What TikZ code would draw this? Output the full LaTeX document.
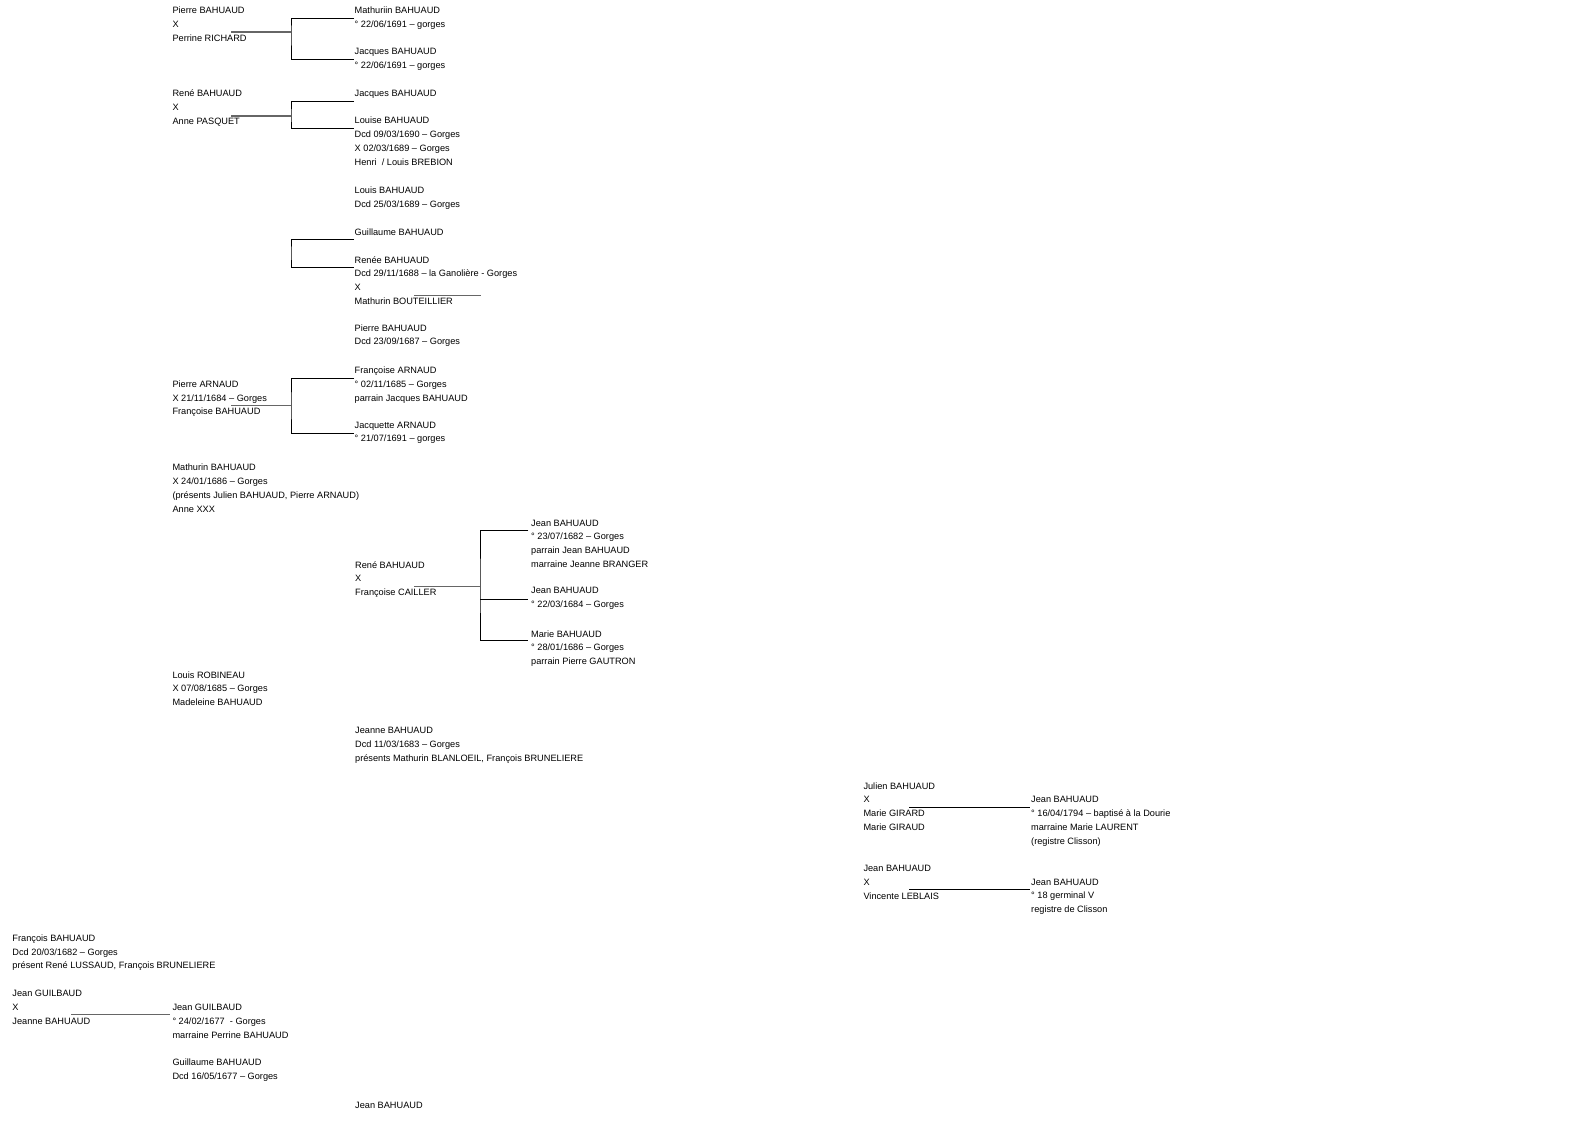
\documentclass[tikz,border=0pt]{standalone}
\usepackage{fontspec}
\setmainfont{Liberation Sans}
\begin{document}
\begin{tikzpicture}[
  x=1pt, y=-1pt,
  person/.style={anchor=north west, yshift=7pt, align=left, inner sep=0pt,
    font=\fontsize{9.2}{13.8}\selectfont, execute at begin node={\rule{0pt}{7pt}}},
  tree/.style={draw=black, line width=0.8pt},
  couple/.style={draw=black!60, line width=1.4pt}
]
\useasboundingbox (0,0) rectangle (1588,1123);

\node[person] (pierreB) at (172.3,13.9) {Pierre BAHUAUD\\X\\Perrine RICHARD};
\node[person] (mathuriin) at (354.5,13.9) {Mathuriin BAHUAUD\\° 22/06/1691 – gorges};
\node[person] (jacquesA) at (354.5,54.9) {Jacques BAHUAUD\\° 22/06/1691 – gorges};

\node[person] (reneA) at (172.3,96.5) {René BAHUAUD\\X\\Anne PASQUET};
\node[person] (jacquesB) at (354.5,96.5) {Jacques BAHUAUD};
\node[person] (louise) at (354.5,123.9) {Louise BAHUAUD\\Dcd 09/03/1690 – Gorges\\X 02/03/1689 – Gorges\\Henri\ \ / Louis BREBION};
\node[person] (louis) at (354.5,193.9) {Louis BAHUAUD\\Dcd 25/03/1689 – Gorges};
\node[person] (guillaumeA) at (354.5,234.9) {Guillaume BAHUAUD};
\node[person] (renee) at (354.5,263.2) {Renée BAHUAUD\\Dcd 29/11/1688 – la Ganolière - Gorges\\X\\Mathurin BOUTEILLIER};
\node[person] (pierreC) at (354.5,331.2) {Pierre BAHUAUD\\Dcd 23/09/1687 – Gorges};

\node[person] (pierreA) at (172.3,387.5) {Pierre ARNAUD\\X 21/11/1684 – Gorges\\Françoise BAHUAUD};
\node[person] (francoiseA) at (354.5,373.9) {Françoise ARNAUD\\° 02/11/1685 – Gorges\\parrain Jacques BAHUAUD};
\node[person] (jacquette) at (354.5,428.5) {Jacquette ARNAUD\\° 21/07/1691 – gorges};

\node[person] (mathurin) at (172.3,470.9) {Mathurin BAHUAUD\\X 24/01/1686 – Gorges\\(présents Julien BAHUAUD, Pierre ARNAUD)\\Anne XXX};

\node[person] (reneB) at (355,568.2) {René BAHUAUD\\X\\Françoise CAILLER};
\node[person] (jeanA) at (531,526.5) {Jean BAHUAUD\\° 23/07/1682 – Gorges\\parrain Jean BAHUAUD\\marraine Jeanne BRANGER};
\node[person] (jeanB) at (531,594.2) {Jean BAHUAUD\\° 22/03/1684 – Gorges};
\node[person] (marie) at (531,637.2) {Marie BAHUAUD\\° 28/01/1686 – Gorges\\parrain Pierre GAUTRON};

\node[person] (louisR) at (172.3,678.2) {Louis ROBINEAU\\X 07/08/1685 – Gorges\\Madeleine BAHUAUD};
\node[person] (jeanne) at (355,733.9) {Jeanne BAHUAUD\\Dcd 11/03/1683 – Gorges\\présents Mathurin BLANLOEIL, François BRUNELIERE};

\node[person] (julien) at (863.3,789.2) {Julien BAHUAUD\\X\\Marie GIRARD\\Marie GIRAUD};
\node[person] (jeanC) at (1031,803.2) {Jean BAHUAUD\\° 16/04/1794 – baptisé à la Dourie\\marraine Marie LAURENT\\(registre Clisson)};
\node[person] (jeanD) at (863.3,871.9) {Jean BAHUAUD\\X\\Vincente LEBLAIS};
\node[person] (jeanE) at (1031,885.5) {Jean BAHUAUD\\° 18 germinal V\\registre de Clisson};

\node[person] (francois) at (12.3,941.5) {François BAHUAUD\\Dcd 20/03/1682 – Gorges\\présent René LUSSAUD, François BRUNELIERE};
\node[person] (jeanG) at (12.3,997.2) {Jean GUILBAUD\\X\\Jeanne BAHUAUD};
\node[person] (jeanH) at (172.3,1010.9) {Jean GUILBAUD\\° 24/02/1677\ \ - Gorges\\marraine Perrine BAHUAUD};
\node[person] (guillaumeB) at (172.3,1065.9) {Guillaume BAHUAUD\\Dcd 16/05/1677 – Gorges};
\node[person] (jeanF) at (355,1108.2) {Jean BAHUAUD};

\coordinate (s1) at (231,32);
\coordinate (f1) at (291,32);
\coordinate (e1a) at (354,18.3);
\coordinate (e1b) at (354,59.3);
\draw[couple] (s1) -- (f1);
\draw[tree] (e1a) -| (f1) |- (e1b);

\coordinate (s2) at (231,116);
\coordinate (f2) at (291,116);
\coordinate (e2a) at (354,101.5);
\coordinate (e2b) at (354,128.3);
\draw[couple] (s2) -- (f2);
\draw[tree] (e2a) -| (f2) |- (e2b);

\coordinate (f3) at (291,253);
\coordinate (e3a) at (354,239.5);
\coordinate (e3b) at (354,267.4);
\draw[tree] (e3a) -| (f3) |- (e3b);
\coordinate (s3) at (414.3,295.3);
\coordinate (t3) at (480.7,295.3);
\draw[couple] (s3) -- (t3);

\coordinate (s4) at (231,405.7);
\coordinate (f4) at (291,405.7);
\coordinate (e4a) at (354,378.3);
\coordinate (e4b) at (354,433);
\draw[couple] (s4) -- (f4);
\draw[tree] (e4a) -| (f4) |- (e4b);

\coordinate (s5) at (414,586.3);
\coordinate (f5) at (480,586.3);
\coordinate (e5a) at (528.3,530.8);
\coordinate (e5b) at (528.3,599.3);
\coordinate (e5c) at (528.3,640.3);
\draw[couple] (s5) -- (f5);
\draw[tree] (e5a) -| (f5) |- (e5c);
\draw[tree] (f5 |- e5b) -- (e5b);

\coordinate (s6) at (909,807);
\coordinate (e6) at (1030,807);
\draw[tree] (s6) -- (e6);
\coordinate (s7) at (909,889.3);
\coordinate (e7) at (1030,889.3);
\draw[tree] (s7) -- (e7);

\coordinate (s8) at (71,1014.3);
\coordinate (e8) at (170,1014.3);
\draw[couple] (s8) -- (e8);
\end{tikzpicture}
\end{document}
